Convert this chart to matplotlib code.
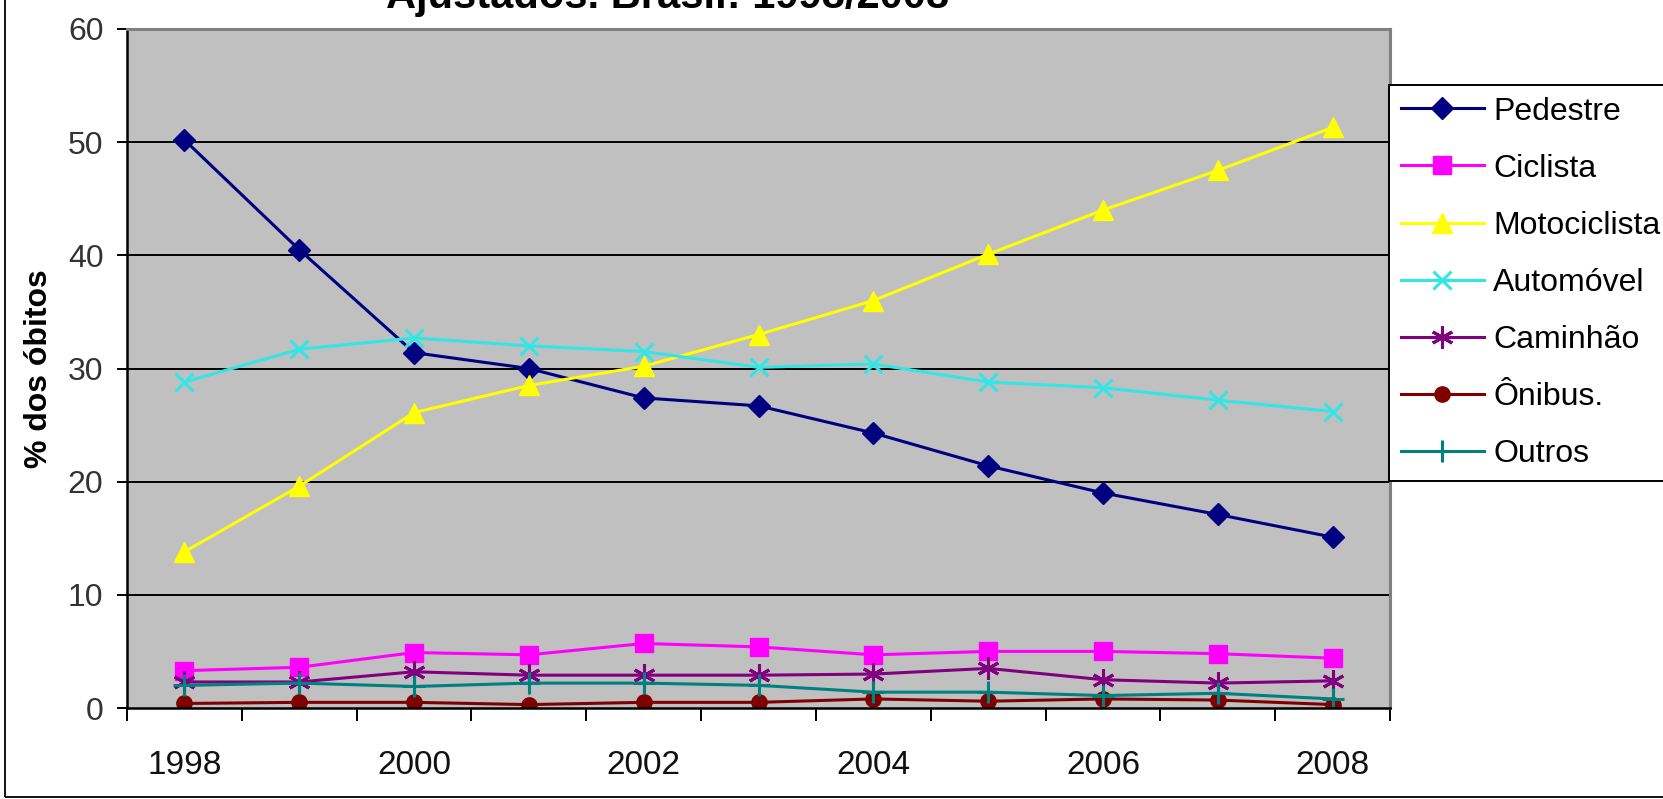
import numpy as np
import matplotlib
matplotlib.use('Agg')
import matplotlib.pyplot as plt
from matplotlib.patches import Rectangle

# --- dados ---
anos = [1998, 1999, 2000, 2001, 2002, 2003, 2004, 2005, 2006, 2007, 2008]
pedestre = [50.2, 40.5, 31.4, 30.0, 27.4, 26.7, 24.3, 21.4, 19.0, 17.1, 15.1]
ciclista = [3.3, 3.6, 4.9, 4.7, 5.7, 5.4, 4.7, 5.0, 5.0, 4.8, 4.4]
motociclista = [13.8, 19.6, 26.1, 28.5, 30.2, 33.0, 36.0, 40.1, 44.0, 47.5, 51.3]
automovel = [28.8, 31.7, 32.7, 32.0, 31.5, 30.1, 30.4, 28.8, 28.3, 27.2, 26.2]
caminhao = [2.3, 2.3, 3.2, 2.9, 2.9, 2.9, 3.0, 3.5, 2.5, 2.2, 2.4]
onibus = [0.4, 0.5, 0.5, 0.3, 0.5, 0.5, 0.8, 0.6, 0.8, 0.7, 0.3]
outros = [2.0, 2.2, 1.9, 2.2, 2.2, 2.0, 1.4, 1.4, 1.1, 1.3, 0.8]

rotulos_x = [1998, 2000, 2002, 2004, 2006, 2008]
ticks_y = [0, 10, 20, 30, 40, 50, 60]

plt.rcParams['font.family'] = ['Liberation Sans', 'DejaVu Sans']

W, H = 1663, 799
fig = plt.figure(figsize=(W / 100, H / 100), dpi=100)
fig.patch.set_facecolor('white')

# área do gráfico (pixels da imagem original)
x0, x1, y0, y1 = 127, 1390, 29, 708
ax = fig.add_axes([x0 / W, 1 - y1 / H, (x1 - x0) / W, (y1 - y0) / H])
ax.set_facecolor('#C0C0C0')

series = [
    (pedestre, 'Pedestre', '#000080', 'D', 11, 'none'),
    (ciclista, 'Ciclista', '#FF00FF', 's', 13, 'none'),
    (motociclista, 'Motociclista', '#FFFF00', '^', 15, 'none'),
    (automovel, 'Automóvel', '#33E6E6', 'x', 13, None),
    (caminhao, 'Caminhão', '#800080', (6, 2, 0), 16, None),
    (onibus, 'Ônibus.', '#800000', 'o', 11, 'none'),
    (outros, 'Outros', '#008080', '+', 16, None),
]

for vals, label, color, marker, ms, mec in series:
    kw = dict(color=color, marker=marker, markersize=ms, linewidth=2.2, label=label)
    if mec is None:
        kw['markeredgewidth'] = 2.2
    else:
        kw['markeredgecolor'] = color
    ax.plot(anos, vals, **kw)

# --- eixos ---
ax.set_xlim(anos[0] - 0.5, anos[-1] + 0.5)
ax.set_ylim(0, 60)
ax.set_yticks(ticks_y)
ax.set_yticklabels([str(t) for t in ticks_y], fontsize=23, color='#333333')
for y in ticks_y[1:-1]:
    ax.axhline(y, color='black', linewidth=1.4, zorder=0.5)

ax.set_xticks(np.arange(anos[0] - 0.5, anos[-1] + 0.6, 1.0))
ax.set_xticklabels([])
ax.set_xticks(rotulos_x, minor=True)
ax.set_xticklabels([str(r) for r in rotulos_x], minor=True, fontsize=24,
                   color='#111111')
ax.tick_params(axis='x', which='major', length=9, width=1.4, direction='out')
ax.tick_params(axis='x', which='minor', length=0, pad=30)
ax.tick_params(axis='y', length=7, width=1.4, direction='out', pad=10)

for side in ['top', 'right']:
    ax.spines[side].set_color('#808080')
    ax.spines[side].set_linewidth(2.2)
for side in ['left', 'bottom']:
    ax.spines[side].set_color('black')
    ax.spines[side].set_linewidth(1.8)

ax.set_ylabel('% dos óbitos', fontsize=23, fontweight='bold')
ax.yaxis.set_label_coords(-(x0 - 54) / (x1 - x0), 0.5)

# --- título (cortado no topo) ---
fig.text(668 / W, 1 - 8 / H, 'Ajustados. Brasil: 1998/2008', ha='center',
         va='baseline', fontsize=30, fontweight='bold')

# --- legenda ---
leg = fig.legend(loc='upper left', bbox_to_anchor=(1389 / W, 1 - 85 / H),
                 fontsize=23, frameon=True, fancybox=False, shadow=False,
                 handlelength=2.6, handletextpad=0.3, labelspacing=0.85,
                 borderpad=0.36, borderaxespad=0)
leg.get_frame().set_edgecolor('black')
leg.get_frame().set_linewidth(1.4)
leg.get_frame().set_alpha(1)

# --- moldura da figura ---
fig.add_artist(Rectangle((5 / W, 2 / H), 1.2, 1.2, transform=fig.transFigure,
                         fill=False, edgecolor='black', linewidth=1.3))

fig.savefig('out.png', dpi=100, facecolor='white')
